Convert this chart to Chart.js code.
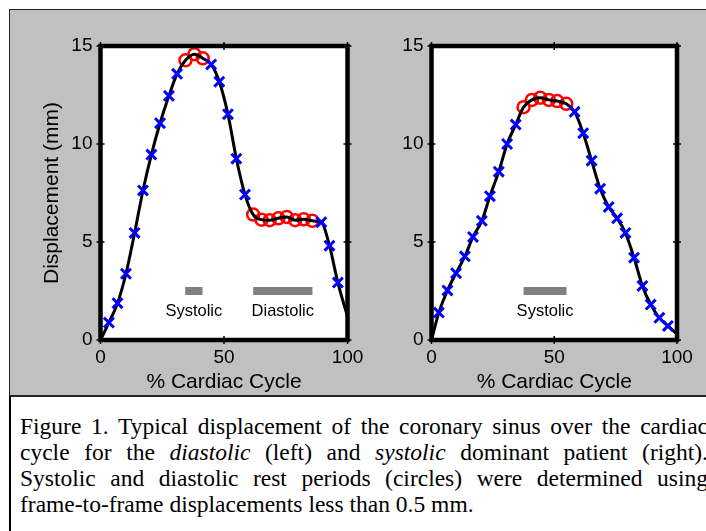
<!DOCTYPE html>
<html>
<head>
<meta charset="utf-8">
<script src="https://cdn.jsdelivr.net/npm/chart.js@4"></script>
<style>
  html, body { margin: 0; padding: 0; background: #fff; }
  body { width: 706px; height: 531px; position: relative; overflow: hidden; }
  #panel {
    position: absolute; left: 9px; top: 9px; width: 760px; height: 385px;
    background: #c0c0c0; border: 1.5px solid #222;
  }
  #capbox {
    position: absolute; left: 9px; top: 395px; width: 760px; height: 200px;
    border-left: 2px solid #000; border-top: 2px solid #222;
  }
  canvas { position: absolute; top: 0; }
  #left { left: 0; }
  #right { left: 340px; }
  #caption {
    position: absolute; left: 20px; top: 413px; width: 688px;
    font-family: "Liberation Serif", "Times New Roman", serif;
    font-size: 23.5px; line-height: 26px; color: #000;
  }
  #caption div { text-align: justify; text-align-last: justify; white-space: nowrap; }
  #caption div.last { text-align: left; text-align-last: left; }
</style>
</head>
<body>
<div id="panel"></div>
<div id="capbox"></div>
<canvas id="left" width="370" height="400"></canvas>
<canvas id="right" width="366" height="400"></canvas>
<div id="caption">
  <div style="white-space:normal">Figure 1. Typical displacement of the coronary sinus over the cardiac</div>
  <div style="white-space:normal">cycle for the <i>diastolic</i> (left) and <i>systolic</i> dominant patient (right).</div>
  <div style="white-space:normal">Systolic and diastolic rest periods (circles) were determined using</div>
  <div class="last">frame-to-frame displacements less than 0.5 mm.</div>
</div>
<script>
// % cardiac cycle and displacement (mm), diastolic dominant patient (left)
const leftX = [0, 3.4, 6.9, 10.3, 13.8, 17.2, 20.6, 24.1, 27.7, 31.0, 34.4, 38.0, 41.4, 44.8, 48.1,
  51.6, 55.0, 58.5, 61.8, 65.2, 68.5, 72.0, 75.4, 78.8, 82.3, 85.8, 89.4, 92.7, 96.1, 100];
const leftY = [0, 0.89, 1.88, 3.38, 5.46, 7.63, 9.46, 11.06, 12.46, 13.58, 14.27, 14.58, 14.37, 14.06, 13.18,
  11.52, 9.25, 7.42, 6.40, 6.14, 6.11, 6.21, 6.28, 6.11, 6.16, 6.08, 6.01, 4.81, 2.93, 1.2];
// marker per frame: '' none, 'x' moving, 'o' rest period
const leftMark = ['', 'x', 'x', 'x', 'x', 'x', 'x', 'x', 'x', 'x', 'o', 'o', 'o', 'x', 'x',
  'x', 'x', 'x', 'o', 'o', 'o', 'o', 'o', 'o', 'o', 'o', 'x', 'x', 'x', ''];
const leftRest = [
  { label: "Systolic", from: 34.3, to: 41.3 },
  { label: "Diastolic", from: 61.8, to: 85.8 }
];

// systolic dominant patient (right)
const rightX = [0, 3.0, 6.5, 10.0, 13.6, 16.9, 20.5, 23.8, 27.4, 30.8, 34.3, 37.5, 40.9, 44.3, 47.8,
  51.2, 54.9, 58.3, 61.8, 65.2, 68.7, 72.2, 75.6, 79.0, 82.5, 85.9, 89.3, 92.8, 96.3, 100];
const rightY = [0, 1.40, 2.53, 3.41, 4.27, 5.26, 6.08, 7.34, 8.59, 10.0, 10.99, 11.88, 12.25, 12.36, 12.25,
  12.19, 12.05, 11.64, 10.55, 9.15, 7.72, 6.79, 6.21, 5.46, 4.20, 2.76, 1.81, 1.13, 0.72, 0.3];
const rightMark = ['', 'x', 'x', 'x', 'x', 'x', 'x', 'x', 'x', 'x', 'x', 'o', 'o', 'o', 'o',
  'o', 'o', 'x', 'x', 'x', 'x', 'x', 'x', 'x', 'x', 'x', 'x', 'x', 'x', ''];
const rightRest = [
  { label: "Systolic", from: 37.5, to: 55.0 }
];

const xTicks = [0, 50, 100];
const yTicks = [0, 5, 10, 15];
const restLevel = 2.5;

const SANS = "'Liberation Sans', Arial, sans-serif";

function pts(xs, ys, marks, kind) {
  const out = [];
  xs.forEach((x, i) => {
    if (kind === undefined || marks[i] === kind) out.push({ x: x, y: ys[i] });
  });
  return out;
}

const framePlugin = {
  id: "frame",
  beforeDatasetsDraw(chart) {
    const { ctx, chartArea: a } = chart;
    ctx.save();
    ctx.fillStyle = "#fff";
    ctx.fillRect(a.left, a.top, a.width, a.height);
    ctx.restore();
  },
  afterDatasetsDraw(chart) {
    const { ctx, chartArea: a, scales } = chart;
    ctx.save();
    // rest period labels under the grey bars
    ctx.fillStyle = "#000";
    ctx.font = "16.5px " + SANS;
    ctx.textAlign = "center";
    ctx.textBaseline = "middle";
    chart.config.options.plugins.frame.rest.forEach(r => {
      const cx = scales.x.getPixelForValue((r.from + r.to) / 2);
      const cy = scales.y.getPixelForValue(restLevel) + 20;
      ctx.fillText(r.label, cx, cy);
    });
    // axes box and ticks
    ctx.strokeStyle = "#000";
    ctx.lineWidth = 4.5;
    ctx.strokeRect(a.left, a.top, a.width, a.height);
    ctx.lineWidth = 1.5;
    ctx.beginPath();
    xTicks.forEach(v => {
      const px = scales.x.getPixelForValue(v);
      ctx.moveTo(px, a.top - 4); ctx.lineTo(px, a.top + 4);
      ctx.moveTo(px, a.bottom - 4); ctx.lineTo(px, a.bottom + 4);
    });
    yTicks.forEach(v => {
      const py = scales.y.getPixelForValue(v);
      ctx.moveTo(a.left - 4, py); ctx.lineTo(a.left + 4, py);
      ctx.moveTo(a.right - 4, py); ctx.lineTo(a.right + 4, py);
    });
    ctx.stroke();
    ctx.restore();
  }
};

function makeChart(id, xs, ys, marks, rest, opts) {
  const datasets = [
    {
      data: pts(xs, ys, marks, "x"),
      showLine: false,
      pointStyle: "crossRot",
      pointRadius: 7,
      pointBorderWidth: 3,
      pointBorderColor: "#0000ff",
      pointBackgroundColor: "#0000ff"
    },
    {
      data: pts(xs, ys),
      borderColor: "#000",
      borderWidth: 3,
      pointRadius: 0,
      cubicInterpolationMode: "monotone",
      fill: false
    },
    {
      data: pts(xs, ys, marks, "o"),
      showLine: false,
      pointStyle: "circle",
      pointRadius: 6,
      pointBorderWidth: 2.5,
      pointBorderColor: "#ff0000",
      pointBackgroundColor: "rgba(0,0,0,0)"
    }
  ];
  rest.forEach(r => {
    datasets.push({
      data: [{ x: r.from, y: restLevel }, { x: r.to, y: restLevel }],
      borderColor: "#808080",
      borderWidth: 8,
      borderCapStyle: "butt",
      pointRadius: 0
    });
  });

  return new Chart(document.getElementById(id), {
    type: "line",
    data: { datasets: datasets },
    options: {
      responsive: false,
      animation: false,
      events: [],
      layout: { padding: opts.padding },
      plugins: {
        legend: { display: false },
        tooltip: { enabled: false },
        frame: { rest: rest }
      },
      scales: {
        x: {
          type: "linear",
          min: 0,
          max: 100,
          afterBuildTicks: s => { s.ticks = xTicks.map(v => ({ value: v })); },
          afterFit: s => { s.height = 60; },
          ticks: { color: "#000", font: { family: SANS, size: 19 }, padding: 6.6, maxRotation: 0 },
          grid: { display: false, drawTicks: false },
          border: { display: false },
          title: {
            display: true,
            text: "% Cardiac Cycle",
            color: "#000",
            font: { family: SANS, size: 21 },
            padding: { top: 0, bottom: 5.4 }
          }
        },
        y: {
          type: "linear",
          min: 0,
          max: 15,
          afterBuildTicks: s => { s.ticks = yTicks.map(v => ({ value: v })); },
          afterFit: s => { s.width = opts.yWidth; },
          ticks: { color: "#000", font: { family: SANS, size: 19 }, padding: 8 },
          grid: { display: false, drawTicks: false },
          border: { display: false },
          title: {
            display: opts.yTitle,
            text: "Displacement (mm)",
            color: "#000",
            font: { family: SANS, size: 21 },
            padding: { top: 0, bottom: 0 }
          }
        }
      }
    },
    plugins: [framePlugin]
  });
}

makeChart("left", leftX, leftY, leftMark, leftRest,
  { padding: { left: 40, top: 46, right: 22.5, bottom: 0 }, yWidth: 60.5, yTitle: true });
makeChart("right", rightX, rightY, rightMark, rightRest,
  { padding: { left: 0, top: 46, right: 29, bottom: 0 }, yWidth: 91.5, yTitle: false });
</script>
</body>
</html>
